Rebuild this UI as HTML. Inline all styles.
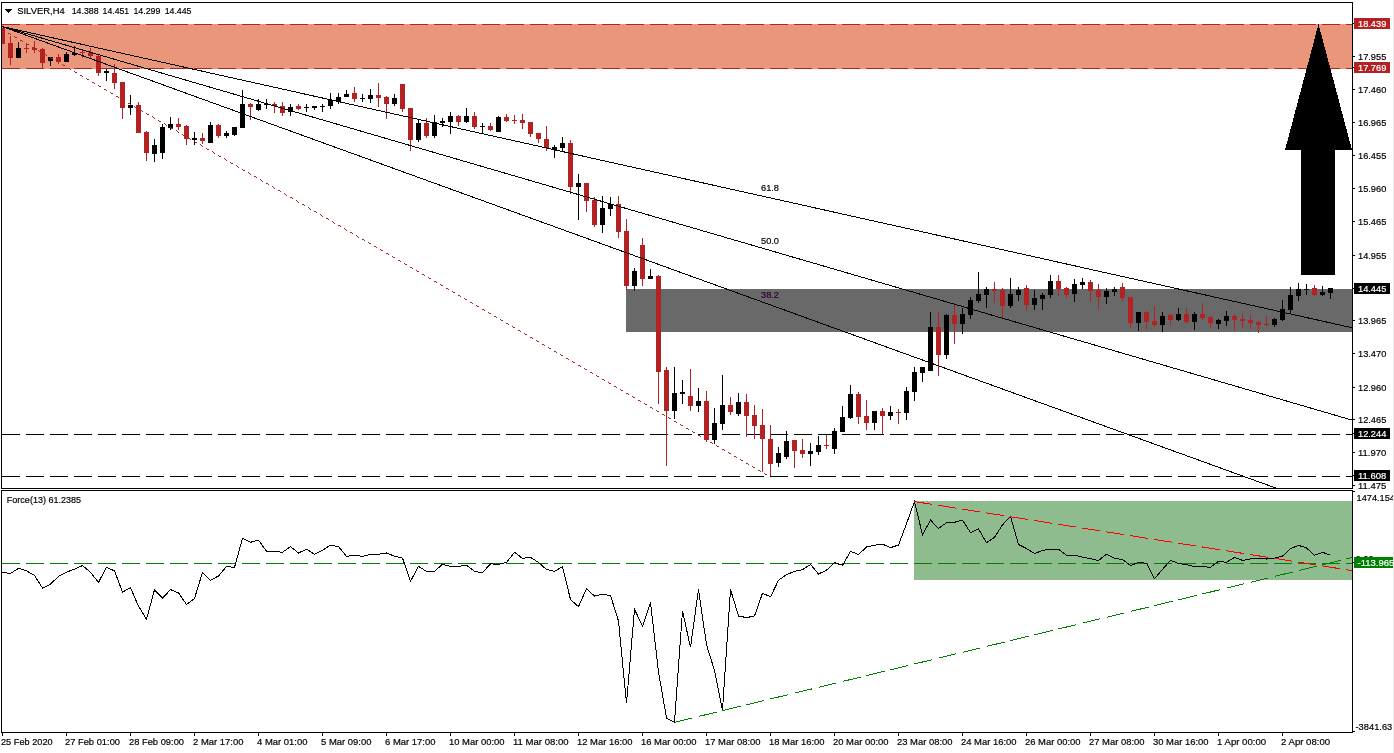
<!DOCTYPE html>
<html><head><meta charset="utf-8"><title>SILVER,H4</title>
<style>
html,body{margin:0;padding:0;background:#fff;}
body{width:1394px;height:753px;overflow:hidden;}
svg{display:block;}
text{font-family:"Liberation Sans",sans-serif;font-size:9.8px;fill:#000;stroke:#000;stroke-width:0.2px;}
.w{fill:#fff;stroke:#fff;}
</style></head><body>
<svg width="1394" height="753" viewBox="0 0 1394 753">
<rect x="0" y="0" width="1394" height="753" fill="#fff"/>

<g shape-rendering="crispEdges">
<rect x="2" y="24" width="1350" height="45" fill="#e9967a"/>
<rect x="626" y="289" width="726" height="43" fill="#696969"/>
<rect x="914" y="501" width="438" height="79" fill="#8fbc8f"/>
<line x1="2" y1="24.5" x2="1352" y2="24.5" stroke="#b22222" stroke-width="1" stroke-dasharray="18 6"/>
<line x1="2" y1="68.5" x2="1352" y2="68.5" stroke="#b22222" stroke-width="1" stroke-dasharray="18 6"/>
<line x1="2" y1="434.5" x2="1352" y2="434.5" stroke="#000" stroke-width="1" stroke-dasharray="18 6"/>
<line x1="2" y1="476.5" x2="1352" y2="476.5" stroke="#000" stroke-width="1" stroke-dasharray="18 6"/>
<line x1="2" y1="563.5" x2="1352" y2="563.5" stroke="#008000" stroke-width="1" stroke-dasharray="18 6"/>
<rect x="2" y="28" width="1" height="16" fill="#b22222"/>
<rect x="2" y="28" width="3" height="16" fill="#b22222"/>
<rect x="10" y="36" width="1" height="29" fill="#b22222"/>
<rect x="8" y="43" width="5" height="15" fill="#b22222"/>
<rect x="18" y="42" width="1" height="16" fill="#000"/>
<rect x="16" y="48" width="5" height="10" fill="#000"/>
<rect x="26" y="44" width="1" height="9" fill="#b22222"/>
<rect x="24" y="48" width="5" height="1" fill="#b22222"/>
<rect x="34" y="41" width="1" height="12" fill="#b22222"/>
<rect x="32" y="48" width="5" height="2" fill="#b22222"/>
<rect x="42" y="48" width="1" height="20" fill="#b22222"/>
<rect x="40" y="49" width="5" height="14" fill="#b22222"/>
<rect x="50" y="57" width="1" height="9" fill="#000"/>
<rect x="48" y="57" width="5" height="4" fill="#000"/>
<rect x="58" y="54" width="1" height="10" fill="#b22222"/>
<rect x="56" y="57" width="5" height="5" fill="#b22222"/>
<rect x="66" y="52" width="1" height="10" fill="#000"/>
<rect x="64" y="54" width="5" height="8" fill="#000"/>
<rect x="74" y="46" width="1" height="10" fill="#000"/>
<rect x="72" y="53" width="5" height="2" fill="#000"/>
<rect x="82" y="49" width="1" height="9" fill="#b22222"/>
<rect x="80" y="52" width="5" height="1" fill="#b22222"/>
<rect x="90" y="48" width="1" height="10" fill="#b22222"/>
<rect x="88" y="53" width="5" height="3" fill="#b22222"/>
<rect x="98" y="55" width="1" height="21" fill="#b22222"/>
<rect x="96" y="56" width="5" height="17" fill="#b22222"/>
<rect x="106" y="69" width="1" height="12" fill="#000"/>
<rect x="104" y="71" width="5" height="2" fill="#000"/>
<rect x="114" y="64" width="1" height="25" fill="#b22222"/>
<rect x="112" y="73" width="5" height="10" fill="#b22222"/>
<rect x="122" y="82" width="1" height="37" fill="#b22222"/>
<rect x="120" y="82" width="5" height="26" fill="#b22222"/>
<rect x="130" y="95" width="1" height="20" fill="#000"/>
<rect x="128" y="105" width="5" height="3" fill="#000"/>
<rect x="138" y="102" width="1" height="31" fill="#b22222"/>
<rect x="136" y="105" width="5" height="28" fill="#b22222"/>
<rect x="146" y="131" width="1" height="30" fill="#b22222"/>
<rect x="144" y="132" width="5" height="21" fill="#b22222"/>
<rect x="154" y="139" width="1" height="23" fill="#000"/>
<rect x="152" y="145" width="5" height="9" fill="#000"/>
<rect x="162" y="124" width="1" height="35" fill="#000"/>
<rect x="160" y="127" width="5" height="26" fill="#000"/>
<rect x="170" y="117" width="1" height="13" fill="#000"/>
<rect x="168" y="124" width="5" height="4" fill="#000"/>
<rect x="178" y="118" width="1" height="12" fill="#b22222"/>
<rect x="176" y="124" width="5" height="3" fill="#b22222"/>
<rect x="186" y="125" width="1" height="20" fill="#b22222"/>
<rect x="184" y="126" width="5" height="13" fill="#b22222"/>
<rect x="194" y="132" width="1" height="13" fill="#000"/>
<rect x="192" y="138" width="5" height="2" fill="#000"/>
<rect x="202" y="133" width="1" height="11" fill="#b22222"/>
<rect x="200" y="138" width="5" height="3" fill="#b22222"/>
<rect x="210" y="122" width="1" height="21" fill="#000"/>
<rect x="208" y="125" width="5" height="18" fill="#000"/>
<rect x="218" y="124" width="1" height="14" fill="#b22222"/>
<rect x="216" y="125" width="5" height="11" fill="#b22222"/>
<rect x="226" y="131" width="1" height="7" fill="#000"/>
<rect x="224" y="133" width="5" height="3" fill="#000"/>
<rect x="234" y="127" width="1" height="9" fill="#000"/>
<rect x="232" y="127" width="5" height="8" fill="#000"/>
<rect x="242" y="90" width="1" height="38" fill="#000"/>
<rect x="240" y="104" width="5" height="24" fill="#000"/>
<rect x="250" y="103" width="1" height="17" fill="#b22222"/>
<rect x="248" y="104" width="5" height="3" fill="#b22222"/>
<rect x="258" y="99" width="1" height="12" fill="#000"/>
<rect x="256" y="104" width="5" height="6" fill="#000"/>
<rect x="266" y="99" width="1" height="10" fill="#000"/>
<rect x="264" y="104" width="5" height="1" fill="#000"/>
<rect x="274" y="102" width="1" height="11" fill="#b22222"/>
<rect x="272" y="104" width="5" height="2" fill="#b22222"/>
<rect x="282" y="102" width="1" height="14" fill="#b22222"/>
<rect x="280" y="106" width="5" height="7" fill="#b22222"/>
<rect x="290" y="104" width="1" height="12" fill="#000"/>
<rect x="288" y="107" width="5" height="5" fill="#000"/>
<rect x="298" y="104" width="1" height="6" fill="#b22222"/>
<rect x="296" y="106" width="5" height="3" fill="#b22222"/>
<rect x="306" y="104" width="1" height="8" fill="#000"/>
<rect x="304" y="107" width="5" height="1" fill="#000"/>
<rect x="314" y="106" width="1" height="4" fill="#000"/>
<rect x="312" y="106" width="5" height="2" fill="#000"/>
<rect x="322" y="104" width="1" height="8" fill="#000"/>
<rect x="320" y="106" width="5" height="1" fill="#000"/>
<rect x="330" y="93" width="1" height="16" fill="#000"/>
<rect x="328" y="100" width="5" height="6" fill="#000"/>
<rect x="338" y="93" width="1" height="11" fill="#000"/>
<rect x="336" y="97" width="5" height="5" fill="#000"/>
<rect x="346" y="90" width="1" height="7" fill="#000"/>
<rect x="344" y="94" width="5" height="3" fill="#000"/>
<rect x="354" y="87" width="1" height="15" fill="#b22222"/>
<rect x="352" y="93" width="5" height="6" fill="#b22222"/>
<rect x="362" y="94" width="1" height="8" fill="#000"/>
<rect x="360" y="98" width="5" height="1" fill="#000"/>
<rect x="370" y="89" width="1" height="14" fill="#000"/>
<rect x="368" y="95" width="5" height="4" fill="#000"/>
<rect x="378" y="83" width="1" height="24" fill="#b22222"/>
<rect x="376" y="95" width="5" height="3" fill="#b22222"/>
<rect x="386" y="96" width="1" height="23" fill="#b22222"/>
<rect x="384" y="97" width="5" height="7" fill="#b22222"/>
<rect x="394" y="94" width="1" height="12" fill="#000"/>
<rect x="392" y="98" width="5" height="6" fill="#000"/>
<rect x="402" y="84" width="1" height="28" fill="#b22222"/>
<rect x="400" y="84" width="5" height="25" fill="#b22222"/>
<rect x="410" y="108" width="1" height="43" fill="#b22222"/>
<rect x="408" y="108" width="5" height="32" fill="#b22222"/>
<rect x="418" y="120" width="1" height="22" fill="#000"/>
<rect x="416" y="123" width="5" height="17" fill="#000"/>
<rect x="426" y="118" width="1" height="20" fill="#b22222"/>
<rect x="424" y="123" width="5" height="13" fill="#b22222"/>
<rect x="434" y="115" width="1" height="23" fill="#000"/>
<rect x="432" y="122" width="5" height="14" fill="#000"/>
<rect x="442" y="118" width="1" height="9" fill="#000"/>
<rect x="440" y="121" width="5" height="2" fill="#000"/>
<rect x="450" y="112" width="1" height="22" fill="#000"/>
<rect x="448" y="116" width="5" height="6" fill="#000"/>
<rect x="458" y="115" width="1" height="11" fill="#b22222"/>
<rect x="456" y="116" width="5" height="6" fill="#b22222"/>
<rect x="466" y="108" width="1" height="15" fill="#000"/>
<rect x="464" y="116" width="5" height="6" fill="#000"/>
<rect x="474" y="112" width="1" height="17" fill="#b22222"/>
<rect x="472" y="116" width="5" height="11" fill="#b22222"/>
<rect x="482" y="123" width="1" height="10" fill="#000"/>
<rect x="480" y="126" width="5" height="1" fill="#000"/>
<rect x="490" y="123" width="1" height="8" fill="#b22222"/>
<rect x="488" y="126" width="5" height="4" fill="#b22222"/>
<rect x="498" y="116" width="1" height="16" fill="#000"/>
<rect x="496" y="117" width="5" height="15" fill="#000"/>
<rect x="506" y="114" width="1" height="8" fill="#b22222"/>
<rect x="504" y="117" width="5" height="4" fill="#b22222"/>
<rect x="514" y="115" width="1" height="9" fill="#b22222"/>
<rect x="512" y="120" width="5" height="1" fill="#b22222"/>
<rect x="522" y="114" width="1" height="15" fill="#b22222"/>
<rect x="520" y="120" width="5" height="3" fill="#b22222"/>
<rect x="530" y="122" width="1" height="15" fill="#b22222"/>
<rect x="528" y="122" width="5" height="12" fill="#b22222"/>
<rect x="538" y="133" width="1" height="10" fill="#b22222"/>
<rect x="536" y="133" width="5" height="6" fill="#b22222"/>
<rect x="546" y="126" width="1" height="25" fill="#b22222"/>
<rect x="544" y="139" width="5" height="9" fill="#b22222"/>
<rect x="554" y="145" width="1" height="13" fill="#000"/>
<rect x="552" y="147" width="5" height="3" fill="#000"/>
<rect x="562" y="137" width="1" height="14" fill="#000"/>
<rect x="560" y="143" width="5" height="5" fill="#000"/>
<rect x="570" y="140" width="1" height="54" fill="#b22222"/>
<rect x="568" y="143" width="5" height="44" fill="#b22222"/>
<rect x="578" y="174" width="1" height="46" fill="#000"/>
<rect x="576" y="183" width="5" height="4" fill="#000"/>
<rect x="586" y="183" width="1" height="29" fill="#b22222"/>
<rect x="584" y="183" width="5" height="18" fill="#b22222"/>
<rect x="594" y="197" width="1" height="30" fill="#b22222"/>
<rect x="592" y="200" width="5" height="25" fill="#b22222"/>
<rect x="602" y="196" width="1" height="37" fill="#000"/>
<rect x="600" y="208" width="5" height="17" fill="#000"/>
<rect x="610" y="197" width="1" height="19" fill="#000"/>
<rect x="608" y="204" width="5" height="5" fill="#000"/>
<rect x="618" y="196" width="1" height="42" fill="#b22222"/>
<rect x="616" y="204" width="5" height="28" fill="#b22222"/>
<rect x="626" y="219" width="1" height="71" fill="#b22222"/>
<rect x="624" y="231" width="5" height="55" fill="#b22222"/>
<rect x="634" y="268" width="1" height="23" fill="#000"/>
<rect x="632" y="271" width="5" height="15" fill="#000"/>
<rect x="642" y="238" width="1" height="48" fill="#b22222"/>
<rect x="640" y="245" width="5" height="34" fill="#b22222"/>
<rect x="650" y="269" width="1" height="10" fill="#000"/>
<rect x="648" y="276" width="5" height="3" fill="#000"/>
<rect x="658" y="275" width="1" height="129" fill="#b22222"/>
<rect x="656" y="276" width="5" height="96" fill="#b22222"/>
<rect x="666" y="367" width="1" height="99" fill="#b22222"/>
<rect x="664" y="370" width="5" height="41" fill="#b22222"/>
<rect x="674" y="367" width="1" height="52" fill="#000"/>
<rect x="672" y="393" width="5" height="18" fill="#000"/>
<rect x="682" y="380" width="1" height="24" fill="#000"/>
<rect x="680" y="392" width="5" height="2" fill="#000"/>
<rect x="690" y="369" width="1" height="42" fill="#b22222"/>
<rect x="688" y="396" width="5" height="10" fill="#b22222"/>
<rect x="698" y="388" width="1" height="24" fill="#000"/>
<rect x="696" y="401" width="5" height="5" fill="#000"/>
<rect x="706" y="391" width="1" height="51" fill="#b22222"/>
<rect x="704" y="401" width="5" height="39" fill="#b22222"/>
<rect x="714" y="408" width="1" height="36" fill="#000"/>
<rect x="712" y="423" width="5" height="17" fill="#000"/>
<rect x="722" y="375" width="1" height="55" fill="#000"/>
<rect x="720" y="405" width="5" height="19" fill="#000"/>
<rect x="730" y="397" width="1" height="18" fill="#b22222"/>
<rect x="728" y="405" width="5" height="7" fill="#b22222"/>
<rect x="738" y="393" width="1" height="23" fill="#000"/>
<rect x="736" y="402" width="5" height="12" fill="#000"/>
<rect x="746" y="394" width="1" height="43" fill="#b22222"/>
<rect x="744" y="402" width="5" height="14" fill="#b22222"/>
<rect x="754" y="405" width="1" height="34" fill="#b22222"/>
<rect x="752" y="415" width="5" height="11" fill="#b22222"/>
<rect x="762" y="409" width="1" height="63" fill="#b22222"/>
<rect x="760" y="425" width="5" height="14" fill="#b22222"/>
<rect x="770" y="425" width="1" height="51" fill="#b22222"/>
<rect x="768" y="439" width="5" height="25" fill="#b22222"/>
<rect x="778" y="447" width="1" height="20" fill="#000"/>
<rect x="776" y="453" width="5" height="10" fill="#000"/>
<rect x="786" y="431" width="1" height="28" fill="#000"/>
<rect x="784" y="441" width="5" height="16" fill="#000"/>
<rect x="794" y="440" width="1" height="28" fill="#b22222"/>
<rect x="792" y="440" width="5" height="11" fill="#b22222"/>
<rect x="802" y="439" width="1" height="19" fill="#b22222"/>
<rect x="800" y="450" width="5" height="4" fill="#b22222"/>
<rect x="810" y="443" width="1" height="23" fill="#000"/>
<rect x="808" y="451" width="5" height="3" fill="#000"/>
<rect x="818" y="436" width="1" height="19" fill="#000"/>
<rect x="816" y="445" width="5" height="7" fill="#000"/>
<rect x="826" y="435" width="1" height="14" fill="#b22222"/>
<rect x="824" y="445" width="5" height="1" fill="#b22222"/>
<rect x="834" y="428" width="1" height="26" fill="#000"/>
<rect x="832" y="431" width="5" height="18" fill="#000"/>
<rect x="842" y="406" width="1" height="26" fill="#000"/>
<rect x="840" y="417" width="5" height="15" fill="#000"/>
<rect x="850" y="385" width="1" height="34" fill="#000"/>
<rect x="848" y="394" width="5" height="24" fill="#000"/>
<rect x="858" y="392" width="1" height="32" fill="#b22222"/>
<rect x="856" y="394" width="5" height="23" fill="#b22222"/>
<rect x="866" y="400" width="1" height="30" fill="#b22222"/>
<rect x="864" y="416" width="5" height="7" fill="#b22222"/>
<rect x="874" y="411" width="1" height="19" fill="#000"/>
<rect x="872" y="411" width="5" height="12" fill="#000"/>
<rect x="882" y="408" width="1" height="26" fill="#b22222"/>
<rect x="880" y="411" width="5" height="5" fill="#b22222"/>
<rect x="890" y="406" width="1" height="14" fill="#000"/>
<rect x="888" y="412" width="5" height="4" fill="#000"/>
<rect x="898" y="409" width="1" height="15" fill="#b22222"/>
<rect x="896" y="412" width="5" height="1" fill="#b22222"/>
<rect x="906" y="387" width="1" height="33" fill="#000"/>
<rect x="904" y="391" width="5" height="22" fill="#000"/>
<rect x="914" y="367" width="1" height="34" fill="#000"/>
<rect x="912" y="372" width="5" height="20" fill="#000"/>
<rect x="922" y="367" width="1" height="15" fill="#000"/>
<rect x="920" y="367" width="5" height="6" fill="#000"/>
<rect x="930" y="312" width="1" height="59" fill="#000"/>
<rect x="928" y="327" width="5" height="44" fill="#000"/>
<rect x="938" y="312" width="1" height="64" fill="#b22222"/>
<rect x="936" y="327" width="5" height="28" fill="#b22222"/>
<rect x="946" y="314" width="1" height="45" fill="#000"/>
<rect x="944" y="315" width="5" height="40" fill="#000"/>
<rect x="954" y="303" width="1" height="41" fill="#b22222"/>
<rect x="952" y="315" width="5" height="9" fill="#b22222"/>
<rect x="962" y="308" width="1" height="26" fill="#000"/>
<rect x="960" y="314" width="5" height="10" fill="#000"/>
<rect x="970" y="297" width="1" height="22" fill="#000"/>
<rect x="968" y="300" width="5" height="15" fill="#000"/>
<rect x="978" y="272" width="1" height="31" fill="#000"/>
<rect x="976" y="294" width="5" height="7" fill="#000"/>
<rect x="986" y="287" width="1" height="21" fill="#000"/>
<rect x="984" y="289" width="5" height="6" fill="#000"/>
<rect x="994" y="282" width="1" height="21" fill="#b22222"/>
<rect x="992" y="289" width="5" height="2" fill="#b22222"/>
<rect x="1002" y="288" width="1" height="30" fill="#b22222"/>
<rect x="1000" y="290" width="5" height="16" fill="#b22222"/>
<rect x="1010" y="278" width="1" height="30" fill="#000"/>
<rect x="1008" y="294" width="5" height="12" fill="#000"/>
<rect x="1018" y="287" width="1" height="14" fill="#000"/>
<rect x="1016" y="290" width="5" height="5" fill="#000"/>
<rect x="1026" y="285" width="1" height="26" fill="#b22222"/>
<rect x="1024" y="288" width="5" height="17" fill="#b22222"/>
<rect x="1034" y="290" width="1" height="20" fill="#000"/>
<rect x="1032" y="298" width="5" height="7" fill="#000"/>
<rect x="1042" y="293" width="1" height="17" fill="#000"/>
<rect x="1040" y="295" width="5" height="4" fill="#000"/>
<rect x="1050" y="275" width="1" height="23" fill="#000"/>
<rect x="1048" y="281" width="5" height="14" fill="#000"/>
<rect x="1058" y="275" width="1" height="21" fill="#b22222"/>
<rect x="1056" y="281" width="5" height="8" fill="#b22222"/>
<rect x="1066" y="287" width="1" height="12" fill="#b22222"/>
<rect x="1064" y="288" width="5" height="7" fill="#b22222"/>
<rect x="1074" y="279" width="1" height="23" fill="#000"/>
<rect x="1072" y="284" width="5" height="10" fill="#000"/>
<rect x="1082" y="278" width="1" height="11" fill="#000"/>
<rect x="1080" y="282" width="5" height="3" fill="#000"/>
<rect x="1090" y="280" width="1" height="22" fill="#b22222"/>
<rect x="1088" y="282" width="5" height="9" fill="#b22222"/>
<rect x="1098" y="284" width="1" height="25" fill="#b22222"/>
<rect x="1096" y="290" width="5" height="7" fill="#b22222"/>
<rect x="1106" y="288" width="1" height="16" fill="#000"/>
<rect x="1104" y="291" width="5" height="6" fill="#000"/>
<rect x="1114" y="287" width="1" height="9" fill="#000"/>
<rect x="1112" y="289" width="5" height="3" fill="#000"/>
<rect x="1122" y="283" width="1" height="18" fill="#b22222"/>
<rect x="1120" y="287" width="5" height="11" fill="#b22222"/>
<rect x="1130" y="297" width="1" height="31" fill="#b22222"/>
<rect x="1128" y="297" width="5" height="26" fill="#b22222"/>
<rect x="1138" y="312" width="1" height="19" fill="#000"/>
<rect x="1136" y="312" width="5" height="11" fill="#000"/>
<rect x="1146" y="311" width="1" height="18" fill="#b22222"/>
<rect x="1144" y="312" width="5" height="10" fill="#b22222"/>
<rect x="1154" y="306" width="1" height="21" fill="#b22222"/>
<rect x="1152" y="321" width="5" height="4" fill="#b22222"/>
<rect x="1162" y="312" width="1" height="20" fill="#000"/>
<rect x="1160" y="316" width="5" height="9" fill="#000"/>
<rect x="1170" y="314" width="1" height="11" fill="#b22222"/>
<rect x="1168" y="315" width="5" height="5" fill="#b22222"/>
<rect x="1178" y="308" width="1" height="13" fill="#000"/>
<rect x="1176" y="314" width="5" height="6" fill="#000"/>
<rect x="1186" y="308" width="1" height="16" fill="#b22222"/>
<rect x="1184" y="314" width="5" height="8" fill="#b22222"/>
<rect x="1194" y="312" width="1" height="18" fill="#000"/>
<rect x="1192" y="314" width="5" height="8" fill="#000"/>
<rect x="1202" y="303" width="1" height="17" fill="#b22222"/>
<rect x="1200" y="314" width="5" height="4" fill="#b22222"/>
<rect x="1210" y="316" width="1" height="12" fill="#b22222"/>
<rect x="1208" y="317" width="5" height="6" fill="#b22222"/>
<rect x="1218" y="319" width="1" height="10" fill="#000"/>
<rect x="1216" y="320" width="5" height="4" fill="#000"/>
<rect x="1226" y="311" width="1" height="15" fill="#000"/>
<rect x="1224" y="316" width="5" height="5" fill="#000"/>
<rect x="1234" y="314" width="1" height="17" fill="#b22222"/>
<rect x="1232" y="316" width="5" height="4" fill="#b22222"/>
<rect x="1242" y="313" width="1" height="15" fill="#b22222"/>
<rect x="1240" y="319" width="5" height="2" fill="#b22222"/>
<rect x="1250" y="315" width="1" height="14" fill="#b22222"/>
<rect x="1248" y="320" width="5" height="3" fill="#b22222"/>
<rect x="1258" y="321" width="1" height="12" fill="#b22222"/>
<rect x="1256" y="322" width="5" height="3" fill="#b22222"/>
<rect x="1266" y="316" width="1" height="10" fill="#b22222"/>
<rect x="1264" y="324" width="5" height="1" fill="#b22222"/>
<rect x="1274" y="318" width="1" height="9" fill="#000"/>
<rect x="1272" y="319" width="5" height="6" fill="#000"/>
<rect x="1282" y="300" width="1" height="21" fill="#000"/>
<rect x="1280" y="309" width="5" height="11" fill="#000"/>
<rect x="1290" y="287" width="1" height="26" fill="#000"/>
<rect x="1288" y="295" width="5" height="15" fill="#000"/>
<rect x="1298" y="283" width="1" height="18" fill="#000"/>
<rect x="1296" y="289" width="5" height="7" fill="#000"/>
<rect x="1306" y="284" width="1" height="11" fill="#000"/>
<rect x="1304" y="289" width="5" height="1" fill="#000"/>
<rect x="1314" y="285" width="1" height="11" fill="#b22222"/>
<rect x="1312" y="288" width="5" height="7" fill="#b22222"/>
<rect x="1322" y="286" width="1" height="10" fill="#000"/>
<rect x="1320" y="292" width="5" height="3" fill="#000"/>
<rect x="1330" y="288" width="1" height="11" fill="#000"/>
<rect x="1328" y="288" width="5" height="5" fill="#000"/>
<polygon points="1318.5,24 1285,150 1301,150 1301,275 1335,275 1335,150 1352,150" fill="#000"/>
</g>
<g shape-rendering="crispEdges" stroke-width="1" fill="none">
<line x1="2" y1="26.5" x2="1352" y2="327.7" stroke="#000"/>
<line x1="2" y1="26.5" x2="1352" y2="420.1" stroke="#000"/>
<line x1="2" y1="26.5" x2="1276.5" y2="488.3" stroke="#000"/>
<path d="M2 29h1v1h-1zM3 30h1v1h-1zM4 30h1v1h-1zM8 33h1v1h-1zM9 33h1v1h-1zM10 34h1v1h-1zM14 36h1v1h-1zM15 37h1v1h-1zM16 37h1v1h-1zM20 40h1v1h-1zM21 40h1v1h-1zM22 41h1v1h-1zM26 43h1v1h-1zM27 44h1v1h-1zM28 44h1v1h-1zM32 47h1v1h-1zM33 47h1v1h-1zM34 48h1v1h-1zM38 50h1v1h-1zM39 51h1v1h-1zM40 51h1v1h-1zM44 54h1v1h-1zM45 54h1v1h-1zM46 55h1v1h-1zM50 57h1v1h-1zM51 58h1v1h-1zM52 58h1v1h-1zM56 61h1v1h-1zM57 61h1v1h-1zM58 62h1v1h-1zM62 64h1v1h-1zM63 65h1v1h-1zM64 65h1v1h-1zM68 68h1v1h-1zM69 68h1v1h-1zM70 69h1v1h-1zM74 71h1v1h-1zM75 72h1v1h-1zM76 72h1v1h-1zM80 75h1v1h-1zM81 75h1v1h-1zM82 76h1v1h-1zM86 78h1v1h-1zM87 79h1v1h-1zM88 79h1v1h-1zM92 82h1v1h-1zM93 82h1v1h-1zM94 83h1v1h-1zM98 85h1v1h-1zM99 86h1v1h-1zM100 86h1v1h-1zM104 89h1v1h-1zM105 89h1v1h-1zM106 90h1v1h-1zM110 92h1v1h-1zM111 93h1v1h-1zM112 93h1v1h-1zM116 96h1v1h-1zM117 96h1v1h-1zM118 97h1v1h-1zM122 99h1v1h-1zM123 100h1v1h-1zM124 100h1v1h-1zM128 103h1v1h-1zM129 103h1v1h-1zM130 104h1v1h-1zM134 106h1v1h-1zM135 107h1v1h-1zM136 107h1v1h-1zM140 109h1v1h-1zM141 110h1v1h-1zM142 111h1v1h-1zM146 113h1v1h-1zM147 114h1v1h-1zM148 114h1v1h-1zM152 116h1v1h-1zM153 117h1v1h-1zM154 118h1v1h-1zM158 120h1v1h-1zM159 121h1v1h-1zM160 121h1v1h-1zM164 123h1v1h-1zM165 124h1v1h-1zM166 125h1v1h-1zM170 127h1v1h-1zM171 128h1v1h-1zM172 128h1v1h-1zM176 130h1v1h-1zM177 131h1v1h-1zM178 132h1v1h-1zM182 134h1v1h-1zM183 135h1v1h-1zM184 135h1v1h-1zM188 137h1v1h-1zM189 138h1v1h-1zM190 139h1v1h-1zM194 141h1v1h-1zM195 142h1v1h-1zM196 142h1v1h-1zM200 144h1v1h-1zM201 145h1v1h-1zM202 146h1v1h-1zM206 148h1v1h-1zM207 149h1v1h-1zM208 149h1v1h-1zM212 151h1v1h-1zM213 152h1v1h-1zM214 153h1v1h-1zM218 155h1v1h-1zM219 156h1v1h-1zM220 156h1v1h-1zM224 158h1v1h-1zM225 159h1v1h-1zM226 160h1v1h-1zM230 162h1v1h-1zM231 163h1v1h-1zM232 163h1v1h-1zM236 165h1v1h-1zM237 166h1v1h-1zM238 167h1v1h-1zM242 169h1v1h-1zM243 170h1v1h-1zM244 170h1v1h-1zM248 172h1v1h-1zM249 173h1v1h-1zM250 174h1v1h-1zM254 176h1v1h-1zM255 176h1v1h-1zM256 177h1v1h-1zM260 179h1v1h-1zM261 180h1v1h-1zM262 181h1v1h-1zM266 183h1v1h-1zM267 183h1v1h-1zM268 184h1v1h-1zM272 186h1v1h-1zM273 187h1v1h-1zM274 188h1v1h-1zM278 190h1v1h-1zM279 190h1v1h-1zM280 191h1v1h-1zM284 193h1v1h-1zM285 194h1v1h-1zM286 195h1v1h-1zM290 197h1v1h-1zM291 197h1v1h-1zM292 198h1v1h-1zM296 200h1v1h-1zM297 201h1v1h-1zM298 202h1v1h-1zM302 204h1v1h-1zM303 204h1v1h-1zM304 205h1v1h-1zM308 207h1v1h-1zM309 208h1v1h-1zM310 209h1v1h-1zM314 211h1v1h-1zM315 211h1v1h-1zM316 212h1v1h-1zM320 214h1v1h-1zM321 215h1v1h-1zM322 216h1v1h-1zM326 218h1v1h-1zM327 218h1v1h-1zM328 219h1v1h-1zM332 221h1v1h-1zM333 222h1v1h-1zM334 223h1v1h-1zM338 225h1v1h-1zM339 225h1v1h-1zM340 226h1v1h-1zM344 228h1v1h-1zM345 229h1v1h-1zM346 230h1v1h-1zM350 232h1v1h-1zM351 232h1v1h-1zM352 233h1v1h-1zM356 235h1v1h-1zM357 236h1v1h-1zM358 237h1v1h-1zM362 239h1v1h-1zM363 239h1v1h-1zM364 240h1v1h-1zM368 242h1v1h-1zM369 243h1v1h-1zM370 243h1v1h-1zM374 246h1v1h-1zM375 246h1v1h-1zM376 247h1v1h-1zM380 249h1v1h-1zM381 250h1v1h-1zM382 250h1v1h-1zM386 253h1v1h-1zM387 253h1v1h-1zM388 254h1v1h-1zM392 256h1v1h-1zM393 257h1v1h-1zM394 257h1v1h-1zM398 260h1v1h-1zM399 260h1v1h-1zM400 261h1v1h-1zM404 263h1v1h-1zM405 264h1v1h-1zM406 264h1v1h-1zM410 267h1v1h-1zM411 267h1v1h-1zM412 268h1v1h-1zM416 270h1v1h-1zM417 271h1v1h-1zM418 271h1v1h-1zM422 274h1v1h-1zM423 274h1v1h-1zM424 275h1v1h-1zM428 277h1v1h-1zM429 278h1v1h-1zM430 278h1v1h-1zM434 281h1v1h-1zM435 281h1v1h-1zM436 282h1v1h-1zM440 284h1v1h-1zM441 285h1v1h-1zM442 285h1v1h-1zM446 288h1v1h-1zM447 288h1v1h-1zM448 289h1v1h-1zM452 291h1v1h-1zM453 292h1v1h-1zM454 292h1v1h-1zM458 295h1v1h-1zM459 295h1v1h-1zM460 296h1v1h-1zM464 298h1v1h-1zM465 299h1v1h-1zM466 299h1v1h-1zM470 302h1v1h-1zM471 302h1v1h-1zM472 303h1v1h-1zM476 305h1v1h-1zM477 306h1v1h-1zM478 306h1v1h-1zM482 309h1v1h-1zM483 309h1v1h-1zM484 310h1v1h-1zM488 312h1v1h-1zM489 313h1v1h-1zM490 313h1v1h-1zM494 316h1v1h-1zM495 316h1v1h-1zM496 317h1v1h-1zM500 319h1v1h-1zM501 320h1v1h-1zM502 320h1v1h-1zM506 323h1v1h-1zM507 323h1v1h-1zM508 324h1v1h-1zM512 326h1v1h-1zM513 327h1v1h-1zM514 327h1v1h-1zM518 330h1v1h-1zM519 330h1v1h-1zM520 331h1v1h-1zM524 333h1v1h-1zM525 334h1v1h-1zM526 334h1v1h-1zM530 337h1v1h-1zM531 337h1v1h-1zM532 338h1v1h-1zM536 340h1v1h-1zM537 341h1v1h-1zM538 341h1v1h-1zM542 344h1v1h-1zM543 344h1v1h-1zM544 345h1v1h-1zM548 347h1v1h-1zM549 348h1v1h-1zM550 348h1v1h-1zM554 351h1v1h-1zM555 351h1v1h-1zM556 352h1v1h-1zM560 354h1v1h-1zM561 355h1v1h-1zM562 355h1v1h-1zM566 358h1v1h-1zM567 358h1v1h-1zM568 359h1v1h-1zM572 361h1v1h-1zM573 362h1v1h-1zM574 362h1v1h-1zM578 365h1v1h-1zM579 365h1v1h-1zM580 366h1v1h-1zM584 368h1v1h-1zM585 369h1v1h-1zM586 369h1v1h-1zM590 372h1v1h-1zM591 372h1v1h-1zM592 373h1v1h-1zM596 375h1v1h-1zM597 376h1v1h-1zM598 376h1v1h-1zM602 379h1v1h-1zM603 379h1v1h-1zM604 380h1v1h-1zM608 382h1v1h-1zM609 383h1v1h-1zM610 383h1v1h-1zM614 386h1v1h-1zM615 386h1v1h-1zM616 387h1v1h-1zM620 389h1v1h-1zM621 390h1v1h-1zM622 390h1v1h-1zM626 393h1v1h-1zM627 393h1v1h-1zM628 394h1v1h-1zM632 396h1v1h-1zM633 397h1v1h-1zM634 397h1v1h-1zM638 400h1v1h-1zM639 400h1v1h-1zM640 401h1v1h-1zM644 403h1v1h-1zM645 404h1v1h-1zM646 404h1v1h-1zM650 407h1v1h-1zM651 407h1v1h-1zM652 408h1v1h-1zM656 410h1v1h-1zM657 411h1v1h-1zM658 411h1v1h-1zM662 414h1v1h-1zM663 414h1v1h-1zM664 415h1v1h-1zM668 417h1v1h-1zM669 418h1v1h-1zM670 418h1v1h-1zM674 421h1v1h-1zM675 421h1v1h-1zM676 422h1v1h-1zM680 424h1v1h-1zM681 425h1v1h-1zM682 425h1v1h-1zM686 428h1v1h-1zM687 428h1v1h-1zM688 429h1v1h-1zM692 431h1v1h-1zM693 432h1v1h-1zM694 432h1v1h-1zM698 435h1v1h-1zM699 435h1v1h-1zM700 436h1v1h-1zM704 438h1v1h-1zM705 439h1v1h-1zM706 439h1v1h-1zM710 442h1v1h-1zM711 442h1v1h-1zM712 443h1v1h-1zM716 445h1v1h-1zM717 446h1v1h-1zM718 446h1v1h-1zM722 449h1v1h-1zM723 449h1v1h-1zM724 450h1v1h-1zM728 452h1v1h-1zM729 453h1v1h-1zM730 453h1v1h-1zM734 456h1v1h-1zM735 456h1v1h-1zM736 457h1v1h-1zM740 459h1v1h-1zM741 460h1v1h-1zM742 460h1v1h-1zM746 463h1v1h-1zM747 463h1v1h-1zM748 464h1v1h-1zM752 466h1v1h-1zM753 467h1v1h-1zM754 467h1v1h-1zM758 470h1v1h-1zM759 470h1v1h-1zM760 471h1v1h-1zM764 473h1v1h-1zM765 474h1v1h-1zM766 474h1v1h-1z" fill="#b22222" stroke="none"/>
<polyline points="2.5,572.3 10.5,573.5 18.5,568.3 26.5,570.9 34.5,575.5 42.5,588.1 50.5,584.1 58.5,576.4 66.5,572.1 74.5,569.2 82.5,565.6 90.5,572.3 98.5,582.4 106.5,567.3 114.5,570.9 122.5,592.1 130.5,587.7 138.5,606.1 146.5,619.3 154.5,589.8 162.5,598.2 170.5,589.6 178.5,592.9 186.5,604.5 194.5,598.4 202.5,572.5 210.5,580.3 218.5,576 226.5,566.4 234.5,567.4 242.5,538.3 250.5,542.3 258.5,540.1 266.5,551.3 274.5,551.3 282.5,552.3 290.5,546.6 298.5,553 306.5,549.2 314.5,554.2 322.5,550.2 330.5,545.2 338.5,546.6 346.5,556.3 354.5,555.2 362.5,556.3 370.5,554.5 378.5,554.3 386.5,553 394.5,556.2 402.5,558.1 410.5,581.3 418.5,566.4 426.5,571.4 434.5,571.4 442.5,564.2 450.5,566.4 458.5,566.4 466.5,565.2 474.5,571.4 482.5,572.7 490.5,563.8 498.5,564.5 506.5,562.4 514.5,552.3 522.5,558.4 530.5,557.3 538.5,562.4 546.5,569.5 554.5,571.4 562.5,566.7 570.5,599.6 578.5,606.7 586.5,588.7 594.5,596.1 602.5,594.3 610.5,595.5 618.5,621 626.5,703.4 634.5,609.2 642.5,626.2 650.5,602.5 658.5,671.8 666.5,718.1 674.5,722.1 682.5,610.8 690.5,647.4 698.5,589.4 706.5,644.7 714.5,670.6 722.5,710.2 730.5,589.4 738.5,616 746.5,617.6 754.5,616 762.5,593.2 770.5,596.8 778.5,580.3 786.5,574.7 794.5,571.3 802.5,569.7 810.5,564.5 818.5,574 826.5,570.2 834.5,562.7 842.5,565.3 850.5,551.3 858.5,554.6 866.5,547 874.5,545.2 882.5,544.1 890.5,547.7 898.5,545 906.5,523.7 914.5,501.5 922.5,534.8 930.5,520.1 938.5,528.5 946.5,522.7 954.5,522.3 962.5,520.1 970.5,532.6 978.5,529 986.5,542.7 994.5,537.3 1002.5,524.9 1010.5,516.5 1018.5,544.5 1026.5,548.5 1034.5,553.5 1042.5,550.5 1050.5,549.1 1058.5,549.1 1066.5,555.3 1074.5,555.3 1082.5,557.1 1090.5,558.6 1098.5,560.6 1106.5,554.1 1114.5,558.1 1122.5,559.6 1130.5,565.6 1138.5,562.5 1146.5,563.2 1154.5,578.7 1162.5,569.3 1170.5,560.3 1178.5,563.6 1186.5,564.6 1194.5,566.5 1202.5,566.4 1210.5,567.4 1218.5,561.3 1226.5,562.3 1234.5,557.4 1242.5,560.4 1250.5,559 1258.5,558.1 1266.5,559 1274.5,558.1 1282.5,556.2 1290.5,548.6 1298.5,545.4 1306.5,547.9 1314.5,555.3 1322.5,552.3 1330.5,555.1" stroke="#000"/>
<line x1="914" y1="501.5" x2="1352" y2="570.6" stroke="#ff0000" stroke-dasharray="18.2 6.1"/>
<line x1="674.5" y1="722.3" x2="1352" y2="557.6" stroke="#008000" stroke-dasharray="18.5 6.2"/>
</g>
<g shape-rendering="crispEdges" fill="#000">
<rect x="1" y="2" width="1352" height="1" fill="#000"/>
<rect x="1" y="2" width="1" height="487" fill="#000"/>
<rect x="1" y="488" width="1352" height="1" fill="#000"/>
<rect x="1352" y="2" width="1" height="487" fill="#000"/>
<rect x="1" y="490" width="1352" height="1" fill="#000"/>
<rect x="1" y="490" width="1" height="243" fill="#000"/>
<rect x="1" y="732" width="1352" height="1" fill="#000"/>
<rect x="1352" y="490" width="1" height="243" fill="#000"/>
<polygon points="5,9 12,9 8.5,13" fill="#000"/>
<rect x="1353" y="56" width="2" height="1" fill="#000"/>
<rect x="1353" y="89" width="2" height="1" fill="#000"/>
<rect x="1353" y="122" width="2" height="1" fill="#000"/>
<rect x="1353" y="155" width="2" height="1" fill="#000"/>
<rect x="1353" y="188" width="2" height="1" fill="#000"/>
<rect x="1353" y="221" width="2" height="1" fill="#000"/>
<rect x="1353" y="255" width="2" height="1" fill="#000"/>
<rect x="1353" y="320" width="2" height="1" fill="#000"/>
<rect x="1353" y="353" width="2" height="1" fill="#000"/>
<rect x="1353" y="387" width="2" height="1" fill="#000"/>
<rect x="1353" y="419" width="2" height="1" fill="#000"/>
<rect x="1353" y="452" width="2" height="1" fill="#000"/>
<rect x="1353" y="485" width="2" height="1" fill="#000"/>
<rect x="2" y="733" width="1" height="3" fill="#000"/>
<rect x="66" y="733" width="1" height="3" fill="#000"/>
<rect x="130" y="733" width="1" height="3" fill="#000"/>
<rect x="194" y="733" width="1" height="3" fill="#000"/>
<rect x="258" y="733" width="1" height="3" fill="#000"/>
<rect x="322" y="733" width="1" height="3" fill="#000"/>
<rect x="386" y="733" width="1" height="3" fill="#000"/>
<rect x="450" y="733" width="1" height="3" fill="#000"/>
<rect x="514" y="733" width="1" height="3" fill="#000"/>
<rect x="578" y="733" width="1" height="3" fill="#000"/>
<rect x="642" y="733" width="1" height="3" fill="#000"/>
<rect x="706" y="733" width="1" height="3" fill="#000"/>
<rect x="770" y="733" width="1" height="3" fill="#000"/>
<rect x="834" y="733" width="1" height="3" fill="#000"/>
<rect x="898" y="733" width="1" height="3" fill="#000"/>
<rect x="962" y="733" width="1" height="3" fill="#000"/>
<rect x="1026" y="733" width="1" height="3" fill="#000"/>
<rect x="1090" y="733" width="1" height="3" fill="#000"/>
<rect x="1154" y="733" width="1" height="3" fill="#000"/>
<rect x="1218" y="733" width="1" height="3" fill="#000"/>
<rect x="1282" y="733" width="1" height="3" fill="#000"/>
<rect x="1353" y="491" width="2" height="1" fill="#000"/>
<rect x="1353" y="731" width="2" height="1" fill="#000"/>
</g>
<text x="1358" y="59.7" textLength="28.3" lengthAdjust="spacingAndGlyphs">17.955</text>
<text x="1358" y="92.7" textLength="28.3" lengthAdjust="spacingAndGlyphs">17.460</text>
<text x="1358" y="125.7" textLength="28.3" lengthAdjust="spacingAndGlyphs">16.965</text>
<text x="1358" y="158.7" textLength="28.3" lengthAdjust="spacingAndGlyphs">16.455</text>
<text x="1358" y="191.7" textLength="28.3" lengthAdjust="spacingAndGlyphs">15.960</text>
<text x="1358" y="224.7" textLength="28.3" lengthAdjust="spacingAndGlyphs">15.465</text>
<text x="1358" y="258.7" textLength="28.3" lengthAdjust="spacingAndGlyphs">14.955</text>
<text x="1358" y="323.7" textLength="28.3" lengthAdjust="spacingAndGlyphs">13.965</text>
<text x="1358" y="356.7" textLength="28.3" lengthAdjust="spacingAndGlyphs">13.470</text>
<text x="1358" y="390.7" textLength="28.3" lengthAdjust="spacingAndGlyphs">12.960</text>
<text x="1358" y="422.7" textLength="28.3" lengthAdjust="spacingAndGlyphs">12.465</text>
<text x="1358" y="455.7" textLength="28.3" lengthAdjust="spacingAndGlyphs">11.970</text>
<text x="1358" y="488.7" textLength="28.3" lengthAdjust="spacingAndGlyphs">11.475</text>
<text x="1356.5" y="501" textLength="38.5" lengthAdjust="spacingAndGlyphs">1474.154</text>
<text x="1355.5" y="562" textLength="18.3" lengthAdjust="spacingAndGlyphs">0.00</text>
<text x="1355.5" y="730" textLength="36.8" lengthAdjust="spacingAndGlyphs">-3841.63</text>
<rect x="1354" y="18" width="36" height="11" fill="#b22222" shape-rendering="crispEdges"/>
<rect x="1353" y="23" width="1" height="1" fill="#000"/>
<text x="1358" y="27" textLength="28.3" lengthAdjust="spacingAndGlyphs" class="w">18.439</text>
<rect x="1354" y="62" width="36" height="11" fill="#b22222" shape-rendering="crispEdges"/>
<rect x="1353" y="67" width="1" height="1" fill="#000"/>
<text x="1358" y="71" textLength="28.3" lengthAdjust="spacingAndGlyphs" class="w">17.769</text>
<rect x="1354" y="283" width="36" height="11" fill="#000" shape-rendering="crispEdges"/>
<rect x="1353" y="288" width="1" height="1" fill="#000"/>
<text x="1358" y="292" textLength="28.3" lengthAdjust="spacingAndGlyphs" class="w">14.445</text>
<rect x="1354" y="428" width="36" height="11" fill="#000" shape-rendering="crispEdges"/>
<rect x="1353" y="433" width="1" height="1" fill="#000"/>
<text x="1358" y="437" textLength="28.3" lengthAdjust="spacingAndGlyphs" class="w">12.244</text>
<rect x="1354" y="470" width="36" height="11" fill="#000" shape-rendering="crispEdges"/>
<rect x="1353" y="475" width="1" height="1" fill="#000"/>
<text x="1358" y="479" textLength="28.3" lengthAdjust="spacingAndGlyphs" class="w">11.608</text>
<rect x="1354" y="557" width="39" height="11" fill="#008000" shape-rendering="crispEdges"/>
<rect x="1353" y="562" width="1" height="1" fill="#000"/>
<text x="1357.5" y="566" textLength="36.8" lengthAdjust="spacingAndGlyphs" class="w">-113.965</text>
<text x="761" y="191" textLength="18" lengthAdjust="spacingAndGlyphs">61.8</text>
<text x="761" y="244" textLength="18" lengthAdjust="spacingAndGlyphs">50.0</text>
<text x="761" y="298" textLength="18" lengthAdjust="spacingAndGlyphs" style="fill:#2a0030;stroke:#2a0030">38.2</text>
<text x="17.2" y="14" textLength="47.6" lengthAdjust="spacingAndGlyphs">SILVER,H4</text>
<text x="71.7" y="14" textLength="27" lengthAdjust="spacingAndGlyphs">14.388</text>
<text x="102.6" y="14" textLength="26.5" lengthAdjust="spacingAndGlyphs">14.451</text>
<text x="133.4" y="14" textLength="27" lengthAdjust="spacingAndGlyphs">14.299</text>
<text x="164.7" y="14" textLength="26.8" lengthAdjust="spacingAndGlyphs">14.445</text>
<text x="6.8" y="503" textLength="74.3" lengthAdjust="spacingAndGlyphs">Force(13) 61.2385</text>
<text x="1" y="745" textLength="51.7337" lengthAdjust="spacingAndGlyphs">25 Feb 2020</text>
<text x="65" y="745" textLength="55.0365" lengthAdjust="spacingAndGlyphs">27 Feb 01:00</text>
<text x="129" y="745" textLength="55.0365" lengthAdjust="spacingAndGlyphs">28 Feb 09:00</text>
<text x="193" y="745" textLength="50.4554" lengthAdjust="spacingAndGlyphs">2 Mar 17:00</text>
<text x="257" y="745" textLength="50.4554" lengthAdjust="spacingAndGlyphs">4 Mar 01:00</text>
<text x="321" y="745" textLength="50.4554" lengthAdjust="spacingAndGlyphs">5 Mar 09:00</text>
<text x="385" y="745" textLength="50.4554" lengthAdjust="spacingAndGlyphs">6 Mar 17:00</text>
<text x="449" y="745" textLength="55.5496" lengthAdjust="spacingAndGlyphs">10 Mar 00:00</text>
<text x="513" y="745" textLength="55.5496" lengthAdjust="spacingAndGlyphs">11 Mar 08:00</text>
<text x="577" y="745" textLength="55.5496" lengthAdjust="spacingAndGlyphs">12 Mar 16:00</text>
<text x="641" y="745" textLength="55.5496" lengthAdjust="spacingAndGlyphs">16 Mar 00:00</text>
<text x="705" y="745" textLength="55.5496" lengthAdjust="spacingAndGlyphs">17 Mar 08:00</text>
<text x="769" y="745" textLength="55.5496" lengthAdjust="spacingAndGlyphs">18 Mar 16:00</text>
<text x="833" y="745" textLength="55.5496" lengthAdjust="spacingAndGlyphs">20 Mar 00:00</text>
<text x="897" y="745" textLength="55.5496" lengthAdjust="spacingAndGlyphs">23 Mar 08:00</text>
<text x="961" y="745" textLength="55.5496" lengthAdjust="spacingAndGlyphs">24 Mar 16:00</text>
<text x="1025" y="745" textLength="55.5496" lengthAdjust="spacingAndGlyphs">26 Mar 00:00</text>
<text x="1089" y="745" textLength="55.5496" lengthAdjust="spacingAndGlyphs">27 Mar 08:00</text>
<text x="1153" y="745" textLength="55.5496" lengthAdjust="spacingAndGlyphs">30 Mar 16:00</text>
<text x="1217" y="745" textLength="49.1306" lengthAdjust="spacingAndGlyphs">1 Apr 00:00</text>
<text x="1281" y="745" textLength="49.1306" lengthAdjust="spacingAndGlyphs">2 Apr 08:00</text>
<rect x="1393" y="0" width="1" height="753" fill="#ececec" shape-rendering="crispEdges"/>
</svg></body></html>
